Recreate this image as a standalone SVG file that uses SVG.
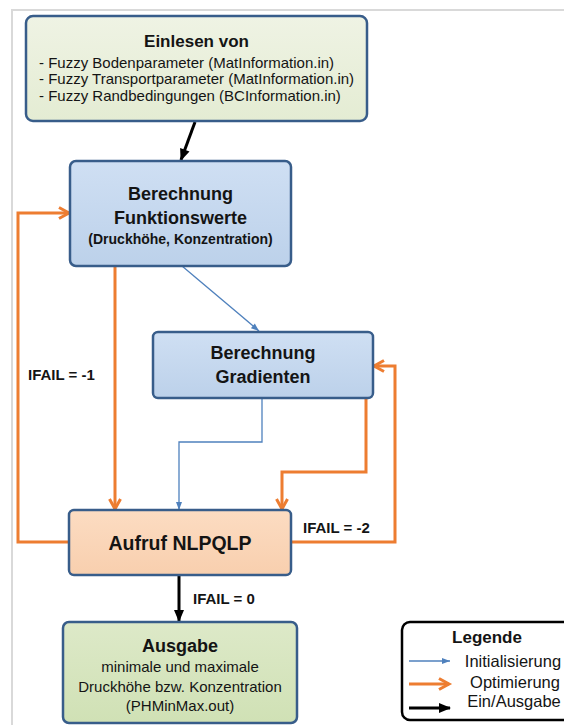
<svg xmlns="http://www.w3.org/2000/svg" width="564" height="725" viewBox="0 0 564 725">
<style>
.box{stroke:#385d8a;stroke-width:2.5}
.t{font-family:"Liberation Sans",Arial,sans-serif;fill:#141414}
.b{font-weight:bold}
.m{text-anchor:middle}
.or{fill:none;stroke:#ed7d31;stroke-width:3}
.bl{fill:none;stroke:#4f81bd;stroke-width:1.3}
.bk{fill:none;stroke:#000;stroke-width:3}
</style>
<defs>
<linearGradient id="gGreen1" x1="0" y1="0" x2="0" y2="1"><stop offset="0" stop-color="#eff3e4"/><stop offset="1" stop-color="#e4ecd3"/></linearGradient>
<linearGradient id="gBlue" x1="0" y1="0" x2="0" y2="1"><stop offset="0" stop-color="#cfdff3"/><stop offset="1" stop-color="#bcd1ea"/></linearGradient>
<linearGradient id="gOrange" x1="0" y1="0" x2="0" y2="1"><stop offset="0" stop-color="#fcdcc2"/><stop offset="1" stop-color="#f8cfae"/></linearGradient>
<linearGradient id="gGreen2" x1="0" y1="0" x2="0" y2="1"><stop offset="0" stop-color="#dde9c8"/><stop offset="1" stop-color="#d0e1b5"/></linearGradient>
<marker id="ao" markerUnits="userSpaceOnUse" markerWidth="16" markerHeight="16" viewBox="-2 -2 16 16" refX="11" refY="6" orient="auto" overflow="visible"><path d="M1,0.5 L11,6 L1,11.5" fill="none" stroke="#ed7d31" stroke-width="3"/></marker>
<marker id="ab" markerUnits="userSpaceOnUse" markerWidth="12" markerHeight="10" viewBox="0 0 12 10" refX="11" refY="5" orient="auto" overflow="visible"><path d="M0,0 L12,5 L0,10 z" fill="#000"/></marker>
<marker id="abl" markerUnits="userSpaceOnUse" markerWidth="8" markerHeight="6" viewBox="0 0 8 6" refX="8" refY="3" orient="auto" overflow="visible"><path d="M0,0 L8,3 L0,6 z" fill="#4f81bd"/></marker>
</defs>
<rect x="0" y="0" width="564" height="725" fill="#fff"/>
<path d="M12,725 V10 H564" fill="none" stroke="#d9d9d9" stroke-width="2"/>

<g id="connectors">
<path class="bk" d="M195,122 L181,160" marker-end="url(#ab)"/>
<path class="or" d="M115,266 V509" marker-end="url(#ao)"/>
<path class="or" d="M69,542 H18 V213 H69" marker-end="url(#ao)"/>
<path class="bl" d="M182,266 L259,331" marker-end="url(#abl)"/>
<path class="bl" d="M262,398 V442 H179 V510" marker-end="url(#abl)"/>
<path class="or" d="M366,398 V472 H282 V509" marker-end="url(#ao)"/>
<path class="or" d="M291,542 H395 V366 H374" marker-end="url(#ao)"/>
<path class="bk" d="M179,575 V621" marker-end="url(#ab)"/>
<text class="t b" x="28" y="380" font-size="15">IFAIL = -1</text>
<text class="t b" x="303" y="533" font-size="15">IFAIL = -2</text>
<text class="t b" x="193" y="604" font-size="15">IFAIL = 0</text>
</g>

<g id="einlesen">
<rect class="box" x="26" y="16" width="341" height="105" rx="7" fill="url(#gGreen1)"/>
<text class="t b m" x="196.5" y="47" font-size="17">Einlesen von</text>
<text class="t" x="39" y="67.5" font-size="15">- Fuzzy Bodenparameter (MatInformation.in)</text>
<text class="t" x="39" y="84" font-size="15">- Fuzzy Transportparameter (MatInformation.in)</text>
<text class="t" x="39" y="100.5" font-size="15">- Fuzzy Randbedingungen (BCInformation.in)</text>
</g>

<g id="funktionswerte">
<rect class="box" x="70" y="161" width="221" height="105" rx="6" fill="url(#gBlue)"/>
<text class="t b m" x="180.5" y="200" font-size="18">Berechnung</text>
<text class="t b m" x="180.5" y="224" font-size="18">Funktionswerte</text>
<text class="t b m" x="180.5" y="244" font-size="14">(Druckhöhe, Konzentration)</text>
</g>

<g id="gradienten">
<rect class="box" x="153" y="332" width="220" height="66" rx="5" fill="url(#gBlue)"/>
<text class="t b m" x="263" y="359" font-size="18">Berechnung</text>
<text class="t b m" x="263" y="383" font-size="18">Gradienten</text>
</g>

<g id="aufruf">
<rect class="box" x="69" y="510" width="222" height="65" rx="5" fill="url(#gOrange)"/>
<text class="t b m" x="180" y="550" font-size="19.5">Aufruf NLPQLP</text>
</g>

<g id="ausgabe">
<rect class="box" x="63" y="622" width="234" height="101" rx="6" fill="url(#gGreen2)"/>
<text class="t b m" x="180" y="652" font-size="18">Ausgabe</text>
<text class="t m" x="180" y="672" font-size="15">minimale und maximale</text>
<text class="t m" x="180" y="692" font-size="15">Druckhöhe bzw. Konzentration</text>
<text class="t m" x="180" y="711" font-size="15">(PHMinMax.out)</text>
</g>

<g id="legende">
<rect x="402" y="622" width="172" height="98" rx="8" fill="#fff" stroke="#000" stroke-width="2.5"/>
<text class="t b m" x="487" y="643" font-size="17">Legende</text>
<path class="bl" d="M409,661 H450" marker-end="url(#abl)"/>
<path class="or" d="M409,684 H449" marker-end="url(#ao)"/>
<path class="bk" d="M409,708 H450" stroke-width="2.5" marker-end="url(#ab)"/>
<text class="t m" x="513" y="667" font-size="16.5">Initialisierung</text>
<text class="t m" x="515" y="688" font-size="16.5">Optimierung</text>
<text class="t m" x="514" y="707" font-size="16.5">Ein/Ausgabe</text>
</g>
</svg>
